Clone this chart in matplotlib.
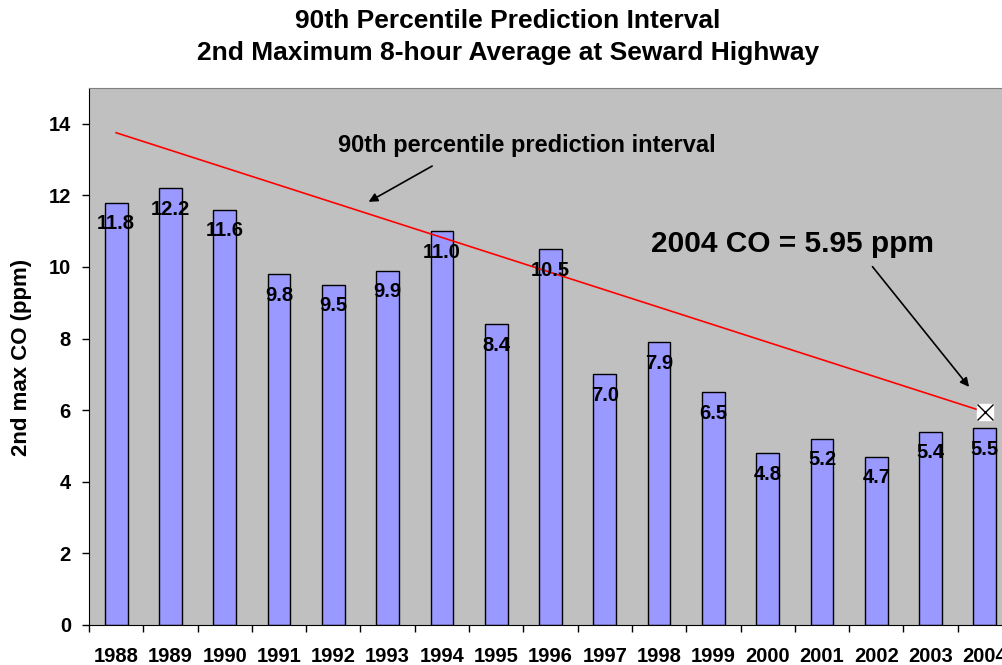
import matplotlib.pyplot as plt
import numpy as np

years = [1988, 1989, 1990, 1991, 1992, 1993, 1994, 1995, 1996,
         1997, 1998, 1999, 2000, 2001, 2002, 2003, 2004]
co_2nd_max = [11.8, 12.2, 11.6, 9.8, 9.5, 9.9, 11.0, 8.4, 10.5,
              7.0, 7.9, 6.5, 4.8, 5.2, 4.7, 5.4, 5.5]

# prediction interval line end points (year, ppm)
pi_years = [1988, 2004]
pi_values = [13.75, 5.95]
co_2004 = 5.95

plt.rcParams["font.family"] = ["Liberation Sans", "DejaVu Sans"]
plt.rcParams["font.weight"] = "bold"

fig = plt.figure(figsize=(10.02, 6.65), dpi=100)
fig.patch.set_facecolor("white")
ax = fig.add_axes([89 / 1002, 40 / 665, 923 / 1002, 537 / 665])
ax.set_facecolor("#C0C0C0")

x = np.arange(len(years))
ax.bar(x, co_2nd_max, width=0.42, color="#9999FF", edgecolor="black",
       linewidth=1.0, zorder=2)

for xi, v in zip(x, co_2nd_max):
    ax.annotate(f"{v:.1f}", (xi, v), xytext=(0, -21), textcoords="offset pixels",
                ha="center", va="center", fontsize=14.5, fontweight="bold",
                zorder=4)

# red line: indices from years
px = [years.index(y) for y in pi_years]
ax.plot(px, pi_values, color="#FF0000", linewidth=1.2, zorder=3)
ax.plot(years.index(2004), co_2004, marker="s", markersize=11.5,
        markerfacecolor="white", markeredgecolor="white", zorder=5)
ax.plot(years.index(2004), co_2004, marker="x", markersize=11,
        markeredgecolor="black", markeredgewidth=1.0, zorder=6)

ax.text(7.56, 13.38, "90th percentile prediction interval", ha="center",
        va="center", fontsize=17, fontweight="bold")
ax.annotate("", xy=(4.65, 11.82), xytext=(5.82, 12.82),
            arrowprops=dict(arrowstyle="-|>", color="black", lw=1.2,
                            mutation_scale=13, shrinkA=0, shrinkB=0))
ax.text(12.46, 10.64, "2004 CO = 5.95 ppm", ha="center", va="center",
        fontsize=21.5, fontweight="bold")
ax.annotate("", xy=(15.71, 6.65), xytext=(13.93, 10.01),
            arrowprops=dict(arrowstyle="-|>", color="black", lw=1.2,
                            mutation_scale=13, shrinkA=0, shrinkB=0))

ax.set_xlim(-0.5, len(years) - 0.5)
ax.set_ylim(0, 15)
ax.set_yticks(range(0, 15, 2))
ax.tick_params(axis="y", direction="out", length=5, width=1, pad=8,
               labelsize=14.5)
ax.set_xticks(x)
ax.set_xticklabels([str(y) for y in years])
ax.set_xticks(np.arange(-0.5, len(years), 1), minor=True)
ax.tick_params(axis="x", which="major", length=0, pad=16, labelsize=14.5)
ax.tick_params(axis="x", which="minor", direction="out", length=5, width=1)
for lbl in ax.get_xticklabels() + ax.get_yticklabels():
    lbl.set_fontweight("bold")

ax.spines["left"].set_color("black")
ax.spines["bottom"].set_color("black")
ax.spines["top"].set_color("#808080")
ax.spines["right"].set_color("#808080")

fig.text(22 / 1002, 1 - 357 / 665, "2nd max CO (ppm)", rotation=90,
         ha="center", va="center", fontsize=16, fontweight="bold")
fig.text(508 / 1002, 1 - 21 / 665, "90th Percentile Prediction Interval",
         ha="center", va="center", fontsize=19, fontweight="bold")
fig.text(508 / 1002, 1 - 53 / 665, "2nd Maximum 8-hour Average at Seward Highway",
         ha="center", va="center", fontsize=19, fontweight="bold")

fig.savefig("out.png", dpi=100, facecolor="white")
